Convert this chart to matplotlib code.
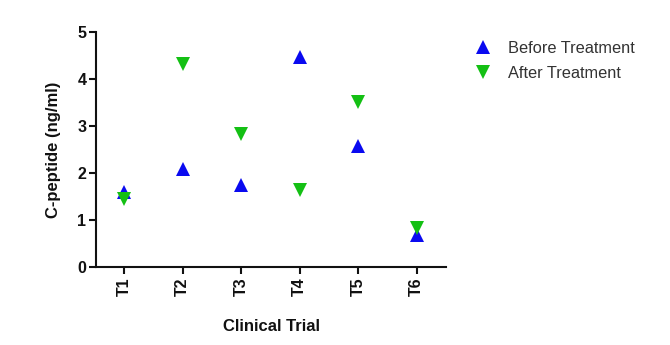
import matplotlib
matplotlib.use("Agg")
import matplotlib.pyplot as plt
from matplotlib.lines import Line2D

categories = ["T1", "T2", "T3", "T4", "T5", "T6"]
before = [1.59, 2.08, 1.74, 4.48, 2.58, 0.68]
after = [1.44, 4.32, 2.82, 1.64, 3.51, 0.83]
yticks = [0, 1, 2, 3, 4, 5]

plt.rcParams['font.family'] = ['Liberation Sans', 'DejaVu Sans']

fig = plt.figure(figsize=(6.7, 3.45), dpi=100)
ax = fig.add_axes([0.1433, 0.2270, 0.5224, 0.6794])

x = list(range(len(categories)))
blue = "#0a0af0"
green = "#14c014"
ax.plot(x, before, linestyle="none", marker="^", markersize=10, color=blue,
        markeredgewidth=0, label="Before Treatment", zorder=3)
ax.plot(x, after, linestyle="none", marker="v", markersize=10, color=green,
        markeredgewidth=0, label="After Treatment", zorder=3)

ax.set_xlim(-0.48, 5.5)
ax.set_ylim(0, 5)
ax.set_yticks(yticks)
ax.set_yticklabels([str(t) for t in yticks], fontsize=11.5, fontweight="bold")
ax.set_xticks(x)
ax.set_xticklabels(categories, rotation=90, fontsize=11.5, fontweight="bold")

for s in ["top", "right"]:
    ax.spines[s].set_visible(False)
for s in ["left", "bottom"]:
    ax.spines[s].set_linewidth(1.5)
    ax.spines[s].set_color("#111111")
ax.tick_params(axis="both", length=5, width=1.5, color="#111111", labelcolor="#111111")
ax.tick_params(axis="y", pad=2)
ax.tick_params(axis="x", pad=3)

ax.set_ylabel("C-peptide (ng/ml)", fontsize=12, fontweight="bold", color="#111111", labelpad=12)
ax.set_xlabel("Clinical Trial", fontsize=12, fontweight="bold", color="#111111", labelpad=16)

handles = [Line2D([], [], linestyle="none", marker="^", markersize=10, color=blue, markeredgewidth=0),
           Line2D([], [], linestyle="none", marker="v", markersize=10, color=green, markeredgewidth=0)]
leg = fig.legend(handles, ["Before Treatment", "After Treatment"], loc="upper left",
                 bbox_to_anchor=(0.686, 0.925), frameon=False, fontsize=11.8,
                 handlelength=1.0, handletextpad=1.05, labelspacing=0.62)
for t in leg.get_texts():
    t.set_color("#333333")

fig.savefig("out.png", dpi=100, facecolor="white")
